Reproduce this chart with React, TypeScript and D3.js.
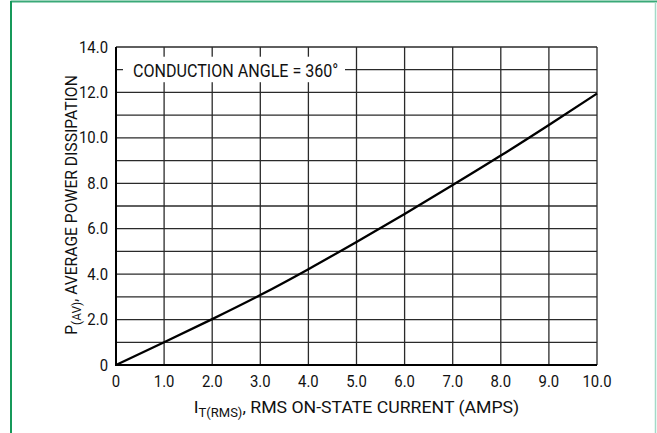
import React from 'react';
import * as d3 from 'd3';

// I T(RMS) vs P(AV), conduction angle 360 deg
const currentAmps = [0, 1, 2, 3, 4, 5, 6, 7, 8, 9, 10];
const powerWatts = [0, 1.0, 2.02, 3.08, 4.22, 5.42, 6.65, 7.92, 9.22, 10.57, 11.95];

const xTickValues = [0, 1, 2, 3, 4, 5, 6, 7, 8, 9, 10];
const yTickValues = [0, 2, 4, 6, 8, 10, 12, 14];
const yGridValues = [1, 2, 3, 4, 5, 6, 7, 8, 9, 10, 11, 12, 13, 14];

const annotation = 'CONDUCTION ANGLE = 360°';

const W = 657;
const H = 433;
const margin = { left: 116, right: 60, top: 47, bottom: 68 };
const FONT = 'Roboto, "Liberation Sans", sans-serif';

// narrow type like the datasheet: squeeze horizontally around its anchor
const NText = ({ x, y, anchor = 'start', size = 16, sx = 0.93, rotate = 0, children }: any) => (
  <text
    transform={`translate(${x},${y}) rotate(${rotate}) scale(${sx},1)`}
    textAnchor={anchor}
    fontSize={size}
    fill="#111"
  >
    {children}
  </text>
);

const App = () => {
  const xScale = d3.scaleLinear().domain([0, 10]).range([margin.left, W - margin.right]);
  const yScale = d3.scaleLinear().domain([0, 14]).range([H - margin.bottom, margin.top]);

  const pts: [number, number][] = currentAmps.map((c, i) => [c, powerWatts[i]]);
  const line = d3.line<[number, number]>()
    .x(d => xScale(d[0]))
    .y(d => yScale(d[1]))
    .curve(d3.curveMonotoneX);

  const fmt = (v: number) => (v === 0 ? '0' : d3.format('.1f')(v));
  const x0 = xScale(0), x1 = xScale(10);
  const y0 = yScale(0), y1 = yScale(14);

  // white gap behind the label
  const boxTop = yScale(13) - 13;
  const boxBottom = yScale(13) + 12.5;

  return (
    <svg width={W} height={H} style={{ position: 'absolute', left: 0, top: 0, background: '#fff' }}
      fontFamily={FONT}>
      {/* green frame */}
      <line x1={10.5} x2={W} y1={1.5} y2={1.5} stroke="#3aa978" strokeWidth={2} />
      <line x1={11} x2={11} y1={1} y2={H} stroke="#16995a" strokeWidth={2} />
      <line x1={655.5} x2={655.5} y1={2} y2={H} stroke="#a3dac8" strokeWidth={1.5} />

      {/* grid */}
      <g stroke="#2a2a2a" strokeWidth={1.3}>
        {xTickValues.slice(1).map(v => (
          <line key={'gx' + v} x1={xScale(v)} x2={xScale(v)} y1={y1} y2={y0} />
        ))}
        {yGridValues.map(v => (
          <line key={'gy' + v} x1={x0} x2={x1} y1={yScale(v)} y2={yScale(v)} />
        ))}
      </g>

      <rect x={x0 + 7} y={boxTop} width={222} height={boxBottom - boxTop} fill="#fff" />
      <NText x={x0 + 17} y={yScale(13) + 7.5} size={17.5} sx={0.92}>{annotation}</NText>

      {/* axes */}
      <line x1={x0} x2={x0} y1={y1} y2={y0 + 1} stroke="#000" strokeWidth={2} />
      <line x1={x0 - 1} x2={x1} y1={y0} y2={y0} stroke="#000" strokeWidth={2.2} />

      {/* curve */}
      <path d={line(pts) || ''} fill="none" stroke="#000" strokeWidth={2.3} />

      {/* tick labels */}
      {yTickValues.map(v => (
        <NText key={'ty' + v} x={x0 - 8} y={yScale(v) + 5.5} anchor="end">{fmt(v)}</NText>
      ))}
      {xTickValues.map(v => (
        <NText key={'tx' + v} x={xScale(v)} y={y0 + 22} anchor="middle">{fmt(v)}</NText>
      ))}

      {/* axis titles */}
      <NText x={(x0 + x1) / 2} y={y0 + 48} anchor="middle" size={17} sx={1.04}>
        I<tspan fontSize={12.5} dy={4}>T(RMS)</tspan><tspan dy={-4}>, RMS ON-STATE CURRENT (AMPS)</tspan>
      </NText>
      <NText x={77} y={(y0 + y1) / 2 - 1} anchor="middle" size={16.5} sx={0.95} rotate={-90}>
        P<tspan fontSize={12.5} dy={4}>(AV)</tspan><tspan dy={-4}>, AVERAGE POWER DISSIPATION</tspan>
      </NText>
    </svg>
  );
};

export default App;
